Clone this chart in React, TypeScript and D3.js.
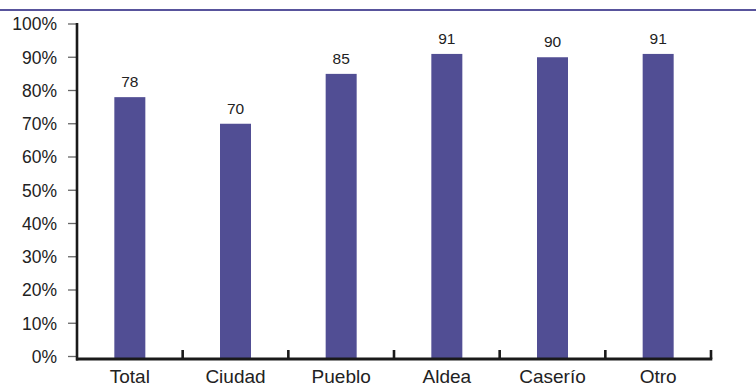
import React from "react";
import * as d3 from "d3";

const categories = ["Total", "Ciudad", "Pueblo", "Aldea", "Caserío", "Otro"];
const values = [78, 70, 85, 91, 90, 91];
const yTicks = [0, 10, 20, 30, 40, 50, 60, 70, 80, 90, 100];

const W = 756;
const H = 387;
const left = 77;
const right = 711;
const top = 24;
const zeroY = 356.5;
const axisY = 359;
const barColor = "#514E94";
const font = "'Liberation Sans', Arial, Helvetica, sans-serif";

export default function App() {
  const x = d3
    .scaleBand<string>()
    .domain(categories)
    .range([left, right])
    .paddingInner(0.7066)
    .paddingOuter(0.3533);
  const y = d3.scaleLinear().domain([0, 100]).range([zeroY, top]);
  const step = x.step();
  const boundaries = d3.range(categories.length + 1).map((i) => left + i * step);

  return (
    <svg
      width={W}
      height={H}
      style={{ position: "absolute", left: 0, top: 0, background: "#fff" }}
      fontFamily={font}
    >
      {/* header rule */}
      <line x1={0} x2={W} y1={10} y2={10} stroke="#58549C" strokeWidth={2.2} />

      {/* bars */}
      {categories.map((c, i) => (
        <rect
          key={c}
          x={x(c)}
          y={y(values[i])}
          width={x.bandwidth()}
          height={axisY - y(values[i])}
          fill={barColor}
        />
      ))}

      {/* value labels */}
      {categories.map((c, i) => (
        <text
          key={c + "-v"}
          x={(x(c) as number) + x.bandwidth() / 2}
          y={y(values[i]) - 10}
          textAnchor="middle"
          fontSize={15.5}
          fill="#222"
        >
          {values[i]}
        </text>
      ))}

      {/* y axis */}
      {yTicks.map((t) => (
        <g key={t}>
          <line x1={68} x2={77} y1={y(t)} y2={y(t)} stroke="#666" strokeWidth={1.3} />
          <text
            x={57}
            y={y(t)}
            dy="0.36em"
            textAnchor="end"
            fontSize={17.5}
            fill="#222"
          >
            {t}%
          </text>
        </g>
      ))}
      <line x1={77} x2={77} y1={top - 1} y2={axisY + 1.5} stroke="#1a1a1a" strokeWidth={2.6} />

      {/* x axis */}
      <line x1={76} x2={right + 1.3} y1={axisY} y2={axisY} stroke="#1a1a1a" strokeWidth={3} />
      {boundaries.slice(1).map((b, i) => (
        <line key={i} x1={b} x2={b} y1={350} y2={axisY} stroke="#1a1a1a" strokeWidth={2.6} />
      ))}
      {categories.map((c) => (
        <text
          key={c + "-l"}
          x={(x(c) as number) + x.bandwidth() / 2}
          y={383}
          textAnchor="middle"
          fontSize={19}
          fill="#222"
        >
          {c}
        </text>
      ))}
    </svg>
  );
}
